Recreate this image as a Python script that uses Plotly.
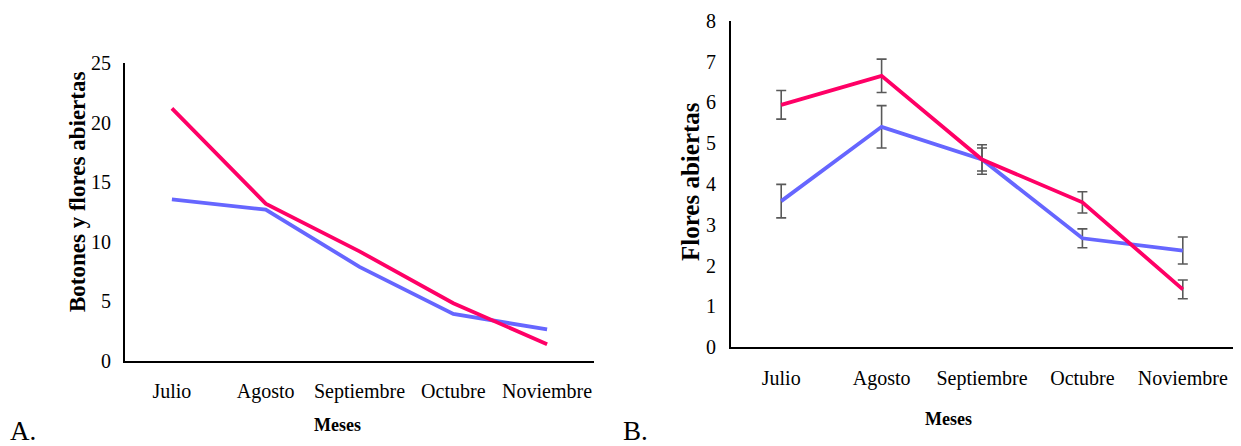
import plotly.graph_objects as go

meses = ["Julio", "Agosto", "Septiembre", "Octubre", "Noviembre"]

# Panel A: Botones y flores abiertas
a_pink = [21.2, 13.2, 9.2, 4.85, 1.4]
a_blue = [13.55, 12.7, 7.9, 3.95, 2.65]

# Panel B: Flores abiertas (with error bars)
b_pink = [5.94, 6.65, 4.6, 3.55, 1.42]
b_pink_err = [0.35, 0.41, 0.36, 0.26, 0.23]
b_blue = [3.58, 5.40, 4.6, 2.67, 2.37]
b_blue_err = [0.41, 0.52, 0.28, 0.23, 0.33]

PINK = "#FF0066"
BLUE = "#6666FF"
ERR = "#595959"
FONT = "Liberation Serif"

# page has default 8px body margin; figure fills the rest of the window
OFF = 8
W, H = 1241 - OFF, 446 - OFF

fig = go.Figure()

fig.add_trace(go.Scatter(x=meses, y=a_blue, mode="lines", line=dict(color=BLUE, width=3.8),
                         xaxis="x", yaxis="y", showlegend=False))
fig.add_trace(go.Scatter(x=meses, y=a_pink, mode="lines", line=dict(color=PINK, width=3.8),
                         xaxis="x", yaxis="y", showlegend=False))

fig.add_trace(go.Scatter(x=meses, y=b_blue, mode="lines", line=dict(color=BLUE, width=3.8),
                         error_y=dict(type="data", array=b_blue_err, color=ERR, thickness=1.6, width=5),
                         xaxis="x2", yaxis="y2", showlegend=False))
fig.add_trace(go.Scatter(x=meses, y=b_pink, mode="lines", line=dict(color=PINK, width=3.8),
                         error_y=dict(type="data", array=b_pink_err, color=ERR, thickness=1.6, width=5),
                         xaxis="x2", yaxis="y2", showlegend=False))

def px_x(p):
    return (p - OFF) / W

def px_y(p):
    return 1 - (p - OFF) / H

axis_common = dict(showgrid=False, zeroline=False, showline=True, linecolor="black",
                   linewidth=2, ticks="", automargin=False,
                   tickfont=dict(family=FONT, size=20, color="black"))

fig.update_layout(
    width=W, height=H,
    margin=dict(l=0, r=0, t=0, b=0),
    paper_bgcolor="white", plot_bgcolor="white",
    xaxis=dict(domain=[px_x(125), px_x(594)], anchor="y", range=[-0.5, 4.5],
               ticklabelstandoff=11, **axis_common),
    yaxis=dict(domain=[px_y(361), px_y(63)], anchor="x", range=[0, 25], dtick=5,
               ticklabelstandoff=8, **axis_common),
    xaxis2=dict(domain=[px_x(731), px_x(1233)], anchor="y2", range=[-0.5, 4.5],
                ticklabelstandoff=12, **axis_common),
    yaxis2=dict(domain=[px_y(347.3), px_y(20.7)], anchor="x2", range=[0, 8], dtick=1,
                ticklabelstandoff=9, **axis_common),
)

ann = []
ann.append(dict(text="<b>Botones y flores abiertas</b>", x=px_x(77), y=px_y(192), xref="paper", yref="paper",
                textangle=-90, showarrow=False, font=dict(family=FONT, size=23, color="black"),
                xanchor="center", yanchor="middle"))
ann.append(dict(text="<b>Flores abiertas</b>", x=px_x(690), y=px_y(182), xref="paper", yref="paper",
                textangle=-90, showarrow=False, font=dict(family=FONT, size=25, color="black"),
                xanchor="center", yanchor="middle"))
ann.append(dict(text="<b>Meses</b>", x=px_x(337), y=px_y(425), xref="paper", yref="paper",
                showarrow=False, font=dict(family=FONT, size=18, color="black"),
                xanchor="center", yanchor="middle"))
ann.append(dict(text="<b>Meses</b>", x=px_x(948), y=px_y(419), xref="paper", yref="paper",
                showarrow=False, font=dict(family=FONT, size=18, color="black"),
                xanchor="center", yanchor="middle"))
ann.append(dict(text="A.", x=px_x(8), y=px_y(431), xref="paper", yref="paper",
                showarrow=False, font=dict(family=FONT, size=27, color="black"),
                xanchor="left", yanchor="middle"))
ann.append(dict(text="B.", x=px_x(621), y=px_y(431), xref="paper", yref="paper",
                showarrow=False, font=dict(family=FONT, size=27, color="black"),
                xanchor="left", yanchor="middle"))
fig.update_layout(annotations=ann)

fig.write_html("out.html")
